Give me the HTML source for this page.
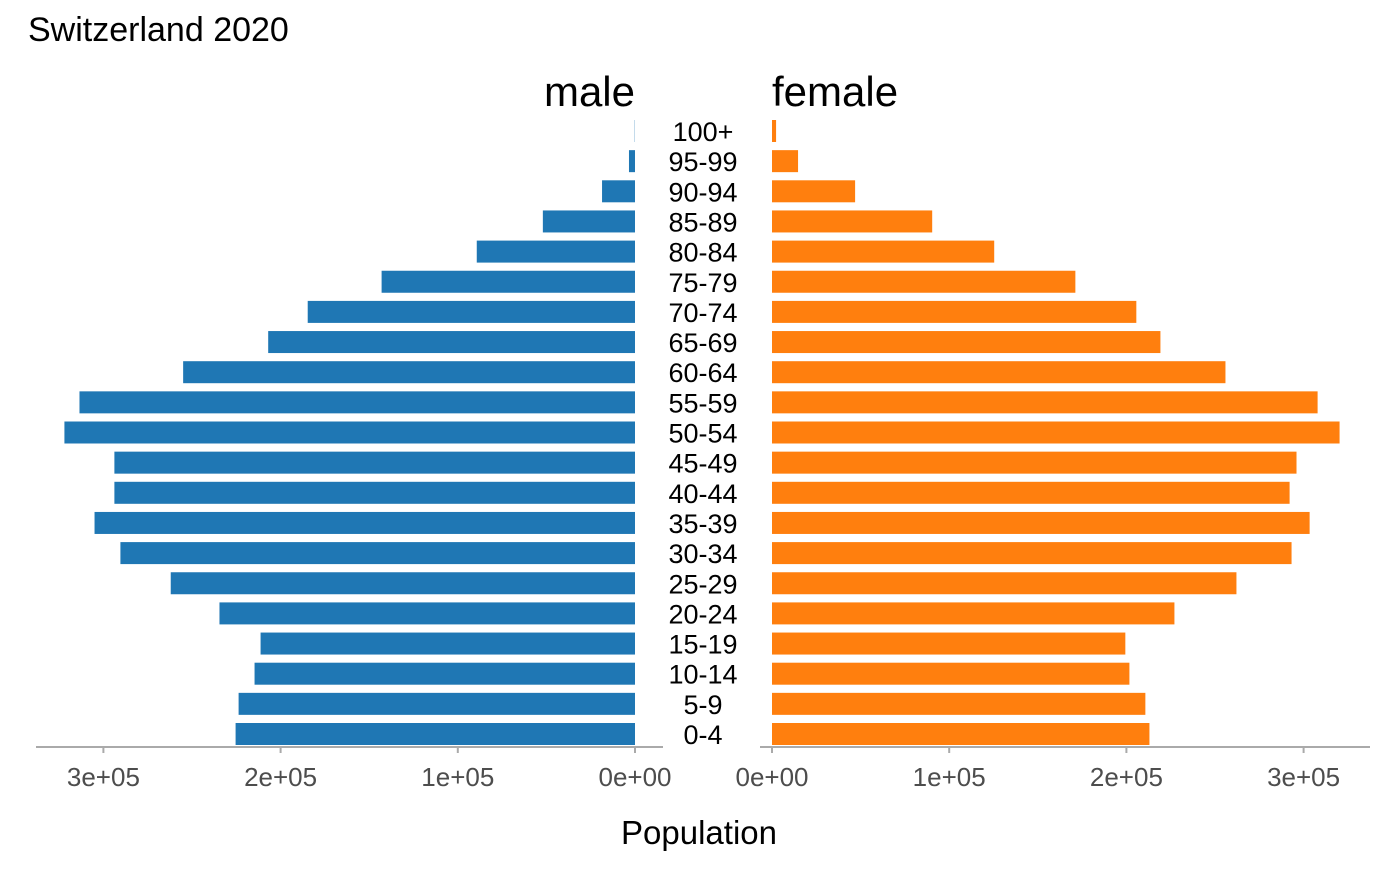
<!DOCTYPE html>
<html><head><meta charset="utf-8"><style>
body{margin:0;background:#fff;font-family:"Liberation Sans",Arial,sans-serif}
svg text{font-family:"Liberation Sans",Arial,sans-serif}
</style></head><body>
<svg id="chart" width="1400" height="866" xmlns="http://www.w3.org/2000/svg">
<text x="28" y="41" font-size="34" fill="#000">Switzerland 2020</text>
<text x="635" y="106" font-size="42" text-anchor="end" fill="#000">male</text>
<text x="772" y="106" font-size="42" fill="#000">female</text>
<text x="699" y="844" font-size="33" text-anchor="middle" fill="#000">Population</text>
<g id="bars"></g><g id="axes"></g>
</svg>
<script>
const ages=["0-4","5-9","10-14","15-19","20-24","25-29","30-34","35-39","40-44","45-49","50-54","55-59","60-64","65-69","70-74","75-79","80-84","85-89","90-94","95-99","100+"];
const male=[225400,223700,214700,211300,234500,262000,290400,305000,293800,293800,322000,313500,255000,207000,184700,143000,89300,52000,18600,3400,150];
const female=[213000,210700,201700,199400,227100,262100,293200,303400,292100,296000,320300,307900,255900,219200,205600,171200,125400,90400,46900,14700,2300];
const ticks=[0,100000,200000,300000];
const tickLabels=["0e+00","1e+05","2e+05","3e+05"];
const NS="http://www.w3.org/2000/svg";
const k=177.2/100000;
const xm=v=>635-v*k, xf=v=>772+v*k;
const yc=i=>734-i*30.15;
const bars=document.getElementById('bars'), axes=document.getElementById('axes');
function mk(tag,attrs,parent,txt){const e=document.createElementNS(NS,tag);for(const a in attrs)e.setAttribute(a,attrs[a]);if(txt!==undefined)e.textContent=txt;parent.appendChild(e);return e;}
ages.forEach((a,i)=>{
 const y=yc(i)-11;
 const m=mk('rect',{x:xm(male[i]),y:y,width:male[i]*k,height:22,fill:'#1f77b4'},bars);
 
 
 const f=mk('rect',{x:772,y:y,width:female[i]*k,height:22,fill:'#ff7f0e'},bars);
 
 
 const t=mk('text',{x:703,y:yc(i)+10,'font-size':27,'text-anchor':'middle',fill:'#000'},bars,a);
 
 
});
const la=mk('line',{x1:36,x2:663,y1:747,y2:747,stroke:'#aaa','stroke-width':2},axes);


const ra=mk('line',{x1:760,x2:1370,y1:747,y2:747,stroke:'#aaa','stroke-width':2},axes);


ticks.forEach((v,i)=>{
 [[xm(v),'male'],[xf(v),'female']].forEach(([x,s])=>{
  mk('line',{x1:x,x2:x,y1:747,y2:753,stroke:'#aaa','stroke-width':2},axes);
  const t=mk('text',{x:x,y:786,'font-size':26,'text-anchor':'middle',fill:'#4d4d4d'},axes,tickLabels[i]);
  
  
 });
});
</script>
</body></html>
